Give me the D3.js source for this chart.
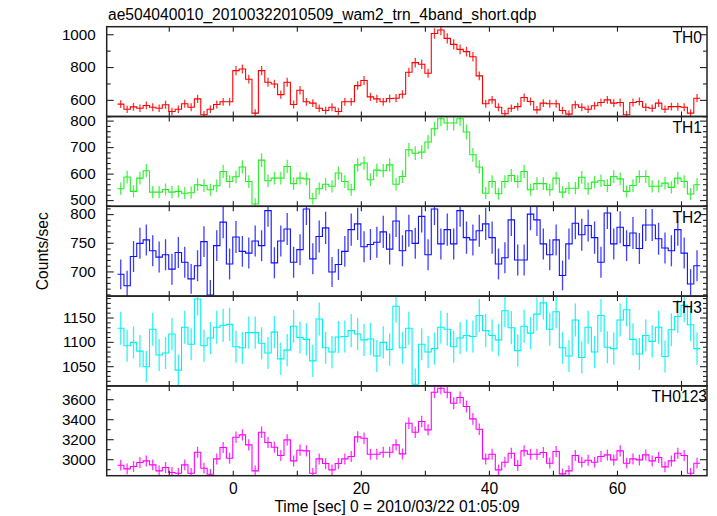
<!DOCTYPE html>
<html><head><meta charset="utf-8">
<script src="https://cdn.jsdelivr.net/npm/d3@7"></script>
<style>body{margin:0;background:#fff}svg{display:block}text{font-family:"Liberation Sans",Arial,Helvetica,sans-serif}</style>
</head><body><svg id="c" width="717" height="516"></svg>
<script>
// ---- data ----
const title = "ae504040010_20100322010509_wam2_trn_4band_short.qdp";
const xTitle = "Time [sec] 0 = 2010/03/22 01:05:09";
const yTitle = "Counts/sec";
const binStart = -18, binSize = 1;            // 1-s bins, first bin starts at -18 s
const xTickValues = [-10, 0, 10, 20, 30, 40, 50, 60, 70];
const xTickLabels = [0, 20, 40, 60];
const panelNames = ["TH0", "TH1", "TH2", "TH3", "TH0123"];

const th0 = [574,543,557,549,566,555,549,570,529,543,576,555,606,509,543,572,588,588,778,788,726,519,778,707,697,632,707,572,659,588,580,549,535,555,529,588,588,687,718,618,606,588,608,610,634,768,827,817,762,1005,1026,975,938,908,894,863,746,576,600,555,515,549,559,614,590,539,580,576,576,535,513,570,555,543,564,584,600,580,584,509,584,590,555,549,580,543,559,559,555,519,610];
const th0Err = [24,23,24,23,24,24,23,24,23,23,24,24,25,23,23,24,24,24,28,28,27,23,28,27,26,25,27,24,26,24,24,23,23,24,23,24,24,26,27,25,25,24,25,25,25,28,29,29,28,32,32,31,31,30,30,29,27,24,24,24,23,23,24,25,24,23,24,24,24,23,23,24,24,23,24,24,24,24,24,23,24,24,24,23,24,23,24,24,24,23,25];
const th1 = [543,587,533,583,611,530,530,540,530,533,526,528,558,555,539,554,608,570,588,625,570,485,651,573,583,583,627,562,583,580,505,543,560,552,602,570,539,633,640,577,613,611,633,560,589,690,677,681,719,769,807,791,791,807,757,671,625,526,570,524,570,593,570,608,539,562,562,539,583,530,545,545,586,543,568,573,555,589,580,533,555,589,589,552,552,564,548,583,570,523,558];
const th1Err = [23,24,23,24,25,23,23,23,23,23,23,23,24,24,23,24,25,24,24,25,24,22,26,24,24,24,25,24,24,24,22,23,24,23,25,24,23,25,25,24,25,25,25,24,24,26,26,26,27,28,28,28,28,28,28,26,25,23,24,23,24,24,24,25,23,24,24,23,24,23,23,23,24,23,24,24,24,24,24,23,24,24,24,23,23,24,23,24,24,23,24];
const th2 = [695,675,726,749,755,736,725,729,704,733,716,687,710,752,659,745,786,713,760,735,732,753,745,806,715,753,774,716,738,809,722,761,776,699,712,735,773,783,743,747,751,769,739,788,736,771,749,796,729,809,748,773,748,806,759,755,771,783,759,713,724,790,720,720,800,790,748,729,755,693,748,784,764,780,759,716,802,748,777,745,767,740,781,781,757,741,736,773,732,678,710];
const th2Err = [26,26,27,27,27,27,27,27,27,27,27,26,27,27,26,27,28,27,28,27,27,27,27,28,27,27,28,27,27,28,27,28,28,26,27,27,28,28,27,27,27,28,27,28,27,28,27,28,27,28,27,28,27,28,28,27,28,28,28,27,27,28,27,27,28,28,27,27,27,26,27,28,28,28,28,27,28,27,28,27,28,27,28,28,28,27,27,28,27,26,27];
const th3 = [1128,1092,1099,1081,1049,1126,1073,1077,1116,1042,1130,1095,1188,1092,1108,1130,1134,1136,1090,1088,1119,1119,1097,1077,1120,1065,1083,1132,1109,1105,1061,1147,1088,1079,1110,1111,1123,1116,1104,1106,1071,1099,1084,1173,1088,1128,1013,1095,1079,1086,1130,1126,1090,1108,1113,1111,1154,1123,1113,1104,1164,1129,1082,1132,1118,1157,1180,1126,1162,1088,1071,1145,1068,1130,1079,1154,1089,1086,1145,1166,1105,1075,1113,1101,1130,1070,1125,1152,1175,1135,1086];
const th3Err = [34,33,33,33,32,34,33,33,33,32,34,33,34,33,33,34,34,34,33,33,33,33,33,33,33,33,33,34,33,33,33,34,33,33,33,33,34,33,33,33,33,33,33,34,33,34,32,33,33,33,34,34,33,33,33,33,34,34,33,33,34,34,33,34,33,34,34,34,34,33,33,34,33,34,33,34,33,33,34,34,33,33,33,33,34,33,34,34,34,34,33];
const th0123 = [2940,2903,2927,2967,2983,2943,2883,2917,2867,2860,2943,2860,3070,2910,2850,3003,3117,3010,3220,3243,3143,2883,3270,3167,3120,3037,3193,2983,3090,3083,2860,3003,2957,2893,2957,3003,3027,3223,3210,3050,3050,3070,3070,3143,3053,3360,3270,3377,3293,3670,3710,3670,3560,3617,3527,3403,3300,3003,3050,2893,2970,3060,2937,3083,3050,3050,3067,2960,3077,2853,2883,3037,2970,2990,2970,3027,3043,2993,3083,2960,3003,2993,3043,2983,3017,2923,2983,3060,3037,2860,2960];
const th0123Err = [54,54,54,54,55,54,54,54,54,53,54,53,55,54,53,55,56,55,57,57,56,54,57,56,56,55,57,55,56,56,53,55,54,54,54,55,55,57,57,55,55,55,55,56,55,58,57,58,57,61,61,61,60,60,59,58,57,55,55,54,54,55,54,56,55,55,55,54,55,53,54,55,54,55,54,55,55,55,56,54,55,55,55,55,55,54,55,55,55,53,54];

// y axis tick settings per panel
const yMajorTicks = [[600,800,1000],[500,600,700,800],[700,750,800],[1050,1100,1150],[3000,3200,3400,3600]];
const yMinorTicks = [[500,700,900],
  [480,520,540,560,580,620,640,660,680,720,740,760,780],
  [660,670,680,690,710,720,730,740,760,770,780,790,810],
  [1010,1020,1030,1040,1060,1070,1080,1090,1110,1120,1130,1140,1160,1170,1180,1190],
  [2900,3100,3300,3500,3700]];
const yDomains = [[498.5,1046],[476.6,815.5],[657,813.6],[1009.5,1194],[2835,3733]];

const series = [th0, th1, th2, th3, th0123];
const seriesErr = [th0Err, th1Err, th2Err, th3Err, th0123Err];
const colors = ["#ff0000", "#22ee22", "#1010ff", "#00f0f0", "#ff00ff"];

// ---- layout ----
const FS = 15.6, TFS = 15.2;
const svg = d3.select("#c");
const L = 106.7, R = 707, T = 26.7, PH = 89.8;
const x = d3.scaleLinear().domain([-19.69, 74.06]).range([L, R]);

svg.append("text").attr("x", 108).attr("y", 19.5).attr("font-size", FS).attr("fill", "#000").text(title);
svg.append("text").attr("transform", `translate(48,${T + PH*2.5}) rotate(-90)`).attr("text-anchor", "middle")
  .attr("font-size", FS).text(yTitle);
svg.append("text").attr("x", 397).attr("y", 511.5).attr("text-anchor", "middle").attr("font-size", FS).text(xTitle);

const defs = svg.append("defs");
const fmt = d3.format("d");

series.forEach((vals, p) => {
  const top = T + p * PH, bot = top + PH;
  const y = d3.scaleLinear().domain(yDomains[p]).range([bot, top]);
  const g = svg.append("g");
  const cid = "clip" + p;
  defs.append("clipPath").attr("id", cid).append("rect").attr("x", L).attr("y", top).attr("width", R - L).attr("height", PH);

  const data = vals.map((v, i) => ({t0: binStart + i * binSize, t: binStart + (i + 0.5) * binSize, v, e: seriesErr[p][i]}));
  const stepData = data.concat([{t0: binStart + vals.length * binSize, v: vals[vals.length - 1]}]);
  const dg = g.append("g").attr("clip-path", `url(#${cid})`);
  dg.selectAll("line.err").data(data).join("line").attr("class", "err")
    .attr("x1", d => x(d.t)).attr("x2", d => x(d.t))
    .attr("y1", d => y(d.v - d.e)).attr("y2", d => y(d.v + d.e))
    .attr("stroke", colors[p]).attr("stroke-width", 1.3).attr("stroke-opacity", 0.8);
  dg.append("path").datum(stepData)
    .attr("d", d3.line().x(d => x(d.t0)).y(d => y(d.v)).curve(d3.curveStepAfter))
    .attr("fill", "none").attr("stroke", colors[p]).attr("stroke-width", 1.1);

  const styleAxis = sel => { sel.select(".domain").remove(); sel.selectAll("line").attr("stroke", "#222").attr("stroke-width", 1.1); };
  const styleText = s => s.selectAll("text").attr("font-size", TFS).attr("font-family", "Liberation Sans, Arial, sans-serif").attr("fill", "#000");
  g.append("g").attr("transform", `translate(${L},0)`)
    .call(d3.axisLeft(y).tickValues(yMajorTicks[p]).tickSize(-7).tickPadding(11).tickFormat(fmt))
    .call(styleAxis).call(styleText);
  g.append("g").attr("transform", `translate(${L},0)`)
    .call(d3.axisLeft(y).tickValues(yMinorTicks[p]).tickSize(-4).tickFormat("")).call(styleAxis);
  g.append("g").attr("transform", `translate(${R},0)`)
    .call(d3.axisRight(y).tickValues(yMajorTicks[p]).tickSize(-7).tickFormat("")).call(styleAxis);
  g.append("g").attr("transform", `translate(${R},0)`)
    .call(d3.axisRight(y).tickValues(yMinorTicks[p]).tickSize(-4).tickFormat("")).call(styleAxis);
  g.append("g").attr("transform", `translate(0,${top})`)
    .call(d3.axisTop(x).tickValues(xTickValues).tickSize(-5).tickFormat("")).call(styleAxis);
  const last = p === series.length - 1;
  g.append("g").attr("transform", `translate(0,${bot})`)
    .call(d3.axisBottom(x).tickValues(xTickValues).tickSize(-5).tickPadding(7)
      .tickFormat(d => last && xTickLabels.includes(d) ? fmt(d) : ""))
    .call(styleAxis).call(s => s.selectAll("text").attr("font-size", FS).attr("fill", "#000"));

  g.append("rect").attr("x", L).attr("y", top).attr("width", R - L).attr("height", PH)
    .attr("fill", "none").attr("stroke", "#222").attr("stroke-width", 1.5);
  g.append("text").attr("x", last ? R : R - 5).attr("y", top + 16.5).attr("text-anchor", "end")
    .attr("font-size", FS).text(panelNames[p]);
});
</script></body></html>
